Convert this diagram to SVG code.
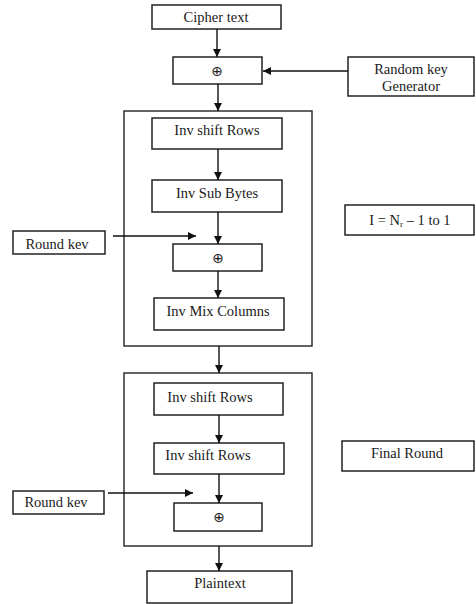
<svg xmlns="http://www.w3.org/2000/svg" width="476" height="604" viewBox="0 0 476 604">
  <defs>
    <marker id="arrow" markerUnits="userSpaceOnUse" markerWidth="8" markerHeight="8" refX="8" refY="4" orient="auto">
      <path d="M0,0 L8,4 L0,8 z" fill="#111"/>
    </marker>
    <style>
      rect { fill: #fff; stroke: #222; stroke-width: 1.5; }
      .frame { fill: none; stroke: #222; stroke-width: 1.4; }
      text { font-family: "Liberation Serif", "Times New Roman", serif; font-size: 14.5px; fill: #1a1a1a; text-anchor: middle; }
      .xor { font-family: "DejaVu Sans", sans-serif; font-size: 14px; }
      .conn line { stroke: #111; stroke-width: 1.4; marker-end: url(#arrow); }
    </style>
  </defs>
  <rect x="0" y="0" width="476" height="604" style="fill:#fff;stroke:none"/>

  <!-- round frames -->
  <g id="round-loop"><rect class="frame" x="124" y="111" width="188" height="235"/></g>
  <g id="round-final"><rect class="frame" x="124" y="373" width="188" height="173"/></g>

  <g id="cipher-text"><rect x="152" y="5" width="129" height="24"/><text x="216" y="22">Cipher text</text></g>
  <g id="xor-1"><rect x="173" y="57" width="89" height="27"/><text class="xor" x="217" y="76">⊕</text></g>
  <g id="random-key"><rect x="348" y="57" width="126" height="39"/><text x="411" y="74">Random key</text><text x="411" y="91">Generator</text></g>

  <g id="inv-shift-rows-1"><rect x="152" y="118" width="130" height="31"/><text x="217" y="135">Inv shift Rows</text></g>
  <g id="inv-sub-bytes"><rect x="152" y="180" width="130" height="32"/><text x="217" y="198">Inv Sub Bytes</text></g>
  <g id="round-key-1"><rect x="13" y="231" width="92" height="23"/><text x="57" y="249">Round kev</text></g>
  <g id="xor-2"><rect x="173" y="244" width="89" height="27"/><text class="xor" x="218" y="263">⊕</text></g>
  <g id="inv-mix-columns"><rect x="154" y="298" width="130" height="32"/><text x="218" y="316">Inv Mix Columns</text></g>
  <g id="loop-label"><rect x="345" y="205" width="129" height="30"/><text x="410" y="225">I = N<tspan font-size="9" dy="2">r</tspan><tspan dy="-2"> – 1 to 1</tspan></text></g>

  <g id="inv-shift-rows-2"><rect x="154" y="383" width="129" height="32"/><text x="210" y="402">Inv shift Rows</text></g>
  <g id="inv-shift-rows-3"><rect x="154" y="443" width="130" height="31"/><text x="208" y="460">Inv shift Rows</text></g>
  <g id="round-key-2"><rect x="13" y="491" width="91" height="23"/><text x="56" y="507">Round kev</text></g>
  <g id="xor-3"><rect x="174" y="503" width="88" height="28"/><text class="xor" x="219" y="522">⊕</text></g>
  <g id="final-round-label"><rect x="342" y="441" width="132" height="30"/><text x="407" y="458">Final Round</text></g>
  <g id="plaintext"><rect x="147" y="571" width="145" height="32"/><text x="220" y="588">Plaintext</text></g>

  <g class="conn" id="connectors">
    <line x1="217" y1="29" x2="217" y2="57"/>
    <line x1="348" y1="71" x2="263" y2="71"/>
    <line x1="218" y1="84" x2="218" y2="111"/>
    <line x1="218" y1="149" x2="218" y2="180"/>
    <line x1="218" y1="212" x2="218" y2="244"/>
    <line x1="113" y1="236" x2="196" y2="236"/>
    <line x1="218" y1="271" x2="218" y2="298"/>
    <line x1="219" y1="346" x2="219" y2="373"/>
    <line x1="219" y1="415" x2="219" y2="443"/>
    <line x1="219" y1="474" x2="219" y2="503"/>
    <line x1="108" y1="493" x2="193" y2="493"/>
    <line x1="219" y1="546" x2="219" y2="571"/>
  </g>
</svg>
